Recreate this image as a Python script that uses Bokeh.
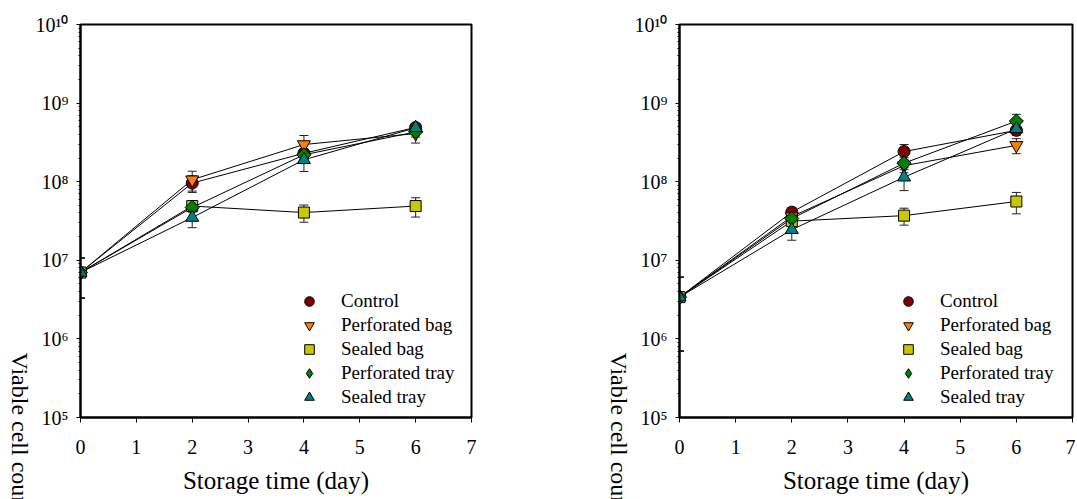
import numpy as np
from bokeh.plotting import figure
from bokeh.layouts import row
from bokeh.models import (ColumnDataSource, Whisker, TeeHead, FixedTicker, Title,
                          CustomJSTickFormatter, Legend, LegendItem, Range1d)
from bokeh.embed import file_html
from bokeh.resources import INLINE

# ---------------- data ----------------
days = [0, 2, 4, 6]
series_names = ["Control", "Perforated bag", "Sealed bag", "Perforated tray", "Sealed tray"]
x_ticks = [0, 1, 2, 3, 4, 5, 6, 7]
y_decades = [5, 6, 7, 8, 9, 10]

# Panel A (left)
control_a = [7.0e6, 9.6e7, 2.3e8, 4.9e8]
control_a_err = [3.7e6, 2.3e7, 3.0e7, 6.0e7]
pbag_a = [7.0e6, 1.06e8, 2.97e8, 4.1e8]
pbag_a_err = [3.7e6, 3.0e7, 9.0e7, 1.0e8]
sbag_a = [7.0e6, 4.9e7, 4.05e7, 4.9e7]
sbag_a_err = [3.7e6, 5.0e6, 1.0e7, 1.35e7]
ptray_a = [7.0e6, 4.7e7, 2.2e8, 4.3e8]
ptray_a_err = [3.7e6, 6.0e6, 3.0e7, 6.0e7]
stray_a = [7.0e6, 3.5e7, 1.9e8, 4.85e8]
stray_a_err = [3.7e6, 9.0e6, 5.5e7, 5.0e7]

# Panel B (right)
control_b = [3.4e6, 4.1e7, 2.42e8, 4.5e8]
control_b_err = [2.7e6, 6.0e6, 5.5e7, 6.0e7]
pbag_b = [3.4e6, 3.6e7, 1.6e8, 2.9e8]
pbag_b_err = [2.7e6, 5.0e6, 3.0e7, 6.3e7]
sbag_b = [3.4e6, 3.15e7, 3.7e7, 5.6e7]
sbag_b_err = [2.7e6, 4.0e6, 9.0e6, 1.7e7]
ptray_b = [3.4e6, 3.4e7, 1.72e8, 5.9e8]
ptray_b_err = [2.7e6, 5.0e6, 3.0e7, 1.3e8]
stray_b = [3.4e6, 2.45e7, 1.14e8, 4.7e8]
stray_b_err = [2.7e6, 6.5e6, 3.7e7, 7.0e7]

panel_a = [(control_a, control_a_err), (pbag_a, pbag_a_err), (sbag_a, sbag_a_err),
           (ptray_a, ptray_a_err), (stray_a, stray_a_err)]
panel_b = [(control_b, control_b_err), (pbag_b, pbag_b_err), (sbag_b, sbag_b_err),
           (ptray_b, ptray_b_err), (stray_b, stray_b_err)]

# ---------------- styles ----------------
colors = ["#800000", "#FF8000", "#C8C800", "#008000", "#008080"]
markers = ["circle", "inverted_triangle", "square", "square", "triangle"]
legend_markers = ["circle", "inverted_triangle", "square", "diamond", "triangle"]
angles = [0, 0, 0, np.pi / 4, 0]
sizes = [12, 13, 11, 10, 13]
FONT = "Liberation Serif"
Y_LABEL = "Viable cell count (CFU/g)"
H = 499

sup_js = """
const sup = {"0":"\\u2070","1":"\\u00B9","2":"\\u00B2","3":"\\u00B3","4":"\\u2074",
             "5":"\\u2075","6":"\\u2076","7":"\\u2077","8":"\\u2078","9":"\\u2079"};
const e = Math.round(Math.log10(tick));
return "10" + String(e).split("").map(c => sup[c]).join("");
"""


def make_label_strip(width):
    """Narrow strip whose right-side title is the (cut-off) y title, reading top-to-bottom."""
    s = figure(width=width, height=H, output_backend="svg", toolbar_location=None,
               x_axis_location=None, y_axis_location=None,
               min_border_left=0, min_border_right=0,
               min_border_top=24, min_border_bottom=82)
    s.grid.visible = False
    s.outline_line_color = None
    s.background_fill_color = "white"
    s.border_fill_color = "white"
    s.add_layout(Title(text=Y_LABEL, align="left", offset=328, standoff=0,
                       vertical_align="top", text_font=FONT, text_font_size="24px",
                       text_font_style="normal", text_color="black"), "right")
    return s


def make_panel(data, border_left, border_right, width):
    p = figure(width=width, height=H, y_axis_type="log",
               x_range=Range1d(0, 7), y_range=Range1d(1e5, 1e10),
               output_backend="svg", toolbar_location=None,
               min_border_left=border_left, min_border_right=border_right,
               min_border_top=24, min_border_bottom=82)
    p.grid.visible = False
    p.outline_line_color = "black"
    p.outline_line_width = 2
    p.background_fill_color = "white"
    p.border_fill_color = "white"

    # axes
    p.xaxis.ticker = FixedTicker(ticks=x_ticks)
    major = [10.0 ** d for d in y_decades]
    minor = [k * 10.0 ** d for d in y_decades[:-1] for k in range(2, 10)]
    p.yaxis.ticker = FixedTicker(ticks=major, minor_ticks=minor)
    p.yaxis.formatter = CustomJSTickFormatter(code=sup_js)
    for ax in (p.xaxis, p.yaxis):
        ax.axis_line_width = 2
        ax.axis_line_color = "black"
        ax.major_tick_line_color = "black"
        ax.major_label_text_font = FONT
        ax.major_label_text_font_size = "20px"
        ax.major_label_text_color = "black"
        ax.major_tick_in = 0
        ax.minor_tick_in = 0
    p.xaxis.major_tick_out = 5
    p.xaxis.minor_tick_line_color = None
    p.xaxis.major_label_standoff = 17
    p.yaxis.major_tick_out = 4
    p.yaxis.minor_tick_out = 2
    p.yaxis.minor_tick_line_color = "black"
    p.yaxis.major_label_standoff = 8
    p.xaxis.axis_label = "Storage time (day)"
    p.xaxis.axis_label_text_font = FONT
    p.xaxis.axis_label_text_font_style = "normal"
    p.xaxis.axis_label_text_font_size = "25px"
    p.xaxis.axis_label_text_color = "black"
    p.xaxis.axis_label_standoff = 10

    items = []
    for i, (vals, errs) in enumerate(data):
        v = np.array(vals)
        e = np.array(errs)
        src = ColumnDataSource(dict(x=days, y=v, upper=v + e, lower=v - e))
        p.line("x", "y", source=src, line_color="black", line_width=1)
        w = Whisker(base="x", upper="upper", lower="lower", source=src,
                    line_color="#222222", line_width=1,
                    upper_head=TeeHead(size=9, line_color="#222222", line_width=1),
                    lower_head=TeeHead(size=9, line_color="#222222", line_width=1))
        p.add_layout(w)
    for i, (vals, errs) in enumerate(data):
        src = ColumnDataSource(dict(x=days, y=vals))
        leg_r = None
        if legend_markers[i] != markers[i]:
            # stand-in renderer (zero size, hidden beneath) that gives the legend its diamond
            leg_r = p.scatter("x", "y", source=src, marker=legend_markers[i], size=0,
                              fill_color=colors[i], line_color="black", line_width=1)
        r = p.scatter("x", "y", source=src, marker=markers[i], size=sizes[i],
                      angle=angles[i],
                      fill_color=colors[i], line_color="black", line_width=1)
        items.append(LegendItem(label=series_names[i], renderers=[leg_r or r]))

    legend = Legend(items=items, location=(215, 8), padding=0, margin=0,
                    spacing=0, glyph_width=28, glyph_height=24, label_height=24,
                    label_standoff=18, border_line_color=None,
                    background_fill_alpha=0,
                    label_text_font=FONT, label_text_font_size="19px",
                    label_text_color="black")
    p.add_layout(legend)
    return p


strip_a = make_label_strip(32)
left = make_panel(panel_a, 45, 128, 567)
strip_b = make_label_strip(32)
right = make_panel(panel_b, 46, 3, 444)

layout = row(strip_a, left, strip_b, right)
open("out.html", "w", encoding="utf-8").write(file_html(layout, INLINE))
